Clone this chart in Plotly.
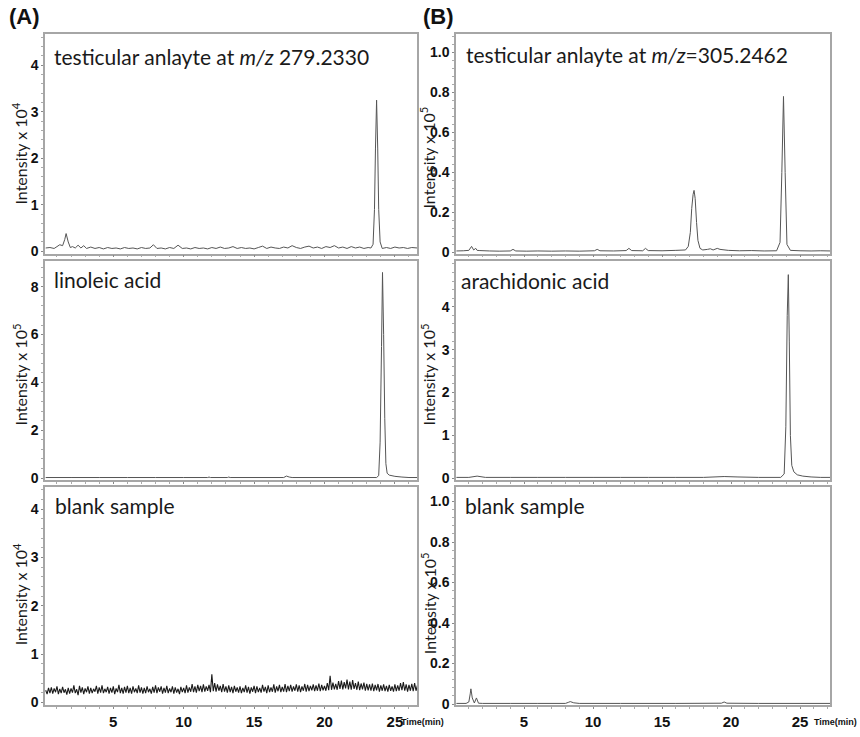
import plotly.graph_objects as go

# ---------------- data ----------------
# (A) top: testicular analyte m/z 279.2330, intensity x 1e4
a1_t = [0.2, 0.5, 0.8, 1.0, 1.2, 1.4, 1.55, 1.65, 1.8, 1.95, 2.1, 2.3, 2.5, 2.7, 2.9, 3.1, 3.4, 3.7,
        4.0, 4.3, 4.6, 4.9, 5.2, 5.5, 5.8, 6.1, 6.4, 6.7, 7.0, 7.3, 7.6, 7.85, 8.1, 8.4, 8.7, 9.0,
        9.3, 9.6, 9.9, 10.2, 10.5, 10.8, 11.1, 11.4, 11.7, 12.0, 12.3, 12.6, 12.9, 13.2, 13.5, 13.8,
        14.1, 14.4, 14.7, 15.0, 15.3, 15.6, 15.9, 16.2, 16.5, 16.8, 17.1, 17.4, 17.7, 18.0, 18.3,
        18.6, 18.9, 19.2, 19.5, 19.8, 20.1, 20.4, 20.7, 21.0, 21.3, 21.6, 21.9, 22.2, 22.5, 22.8,
        23.1, 23.3, 23.45, 23.55, 23.62, 23.7, 23.78, 23.85, 23.95, 24.1, 24.4, 24.7, 25.0, 25.3,
        25.6, 25.9, 26.2, 26.6]
a1_y = [0.07, 0.08, 0.06, 0.10, 0.14, 0.12, 0.25, 0.38, 0.20, 0.08, 0.10, 0.07, 0.13, 0.07, 0.12,
        0.06, 0.09, 0.06, 0.08, 0.05, 0.08, 0.06, 0.07, 0.05, 0.08, 0.06, 0.07, 0.05, 0.08, 0.06,
        0.07, 0.14, 0.06, 0.07, 0.05, 0.08, 0.06, 0.13, 0.06, 0.07, 0.05, 0.08, 0.06, 0.07, 0.05,
        0.08, 0.06, 0.09, 0.06, 0.07, 0.10, 0.06, 0.08, 0.06, 0.07, 0.05, 0.08, 0.11, 0.06, 0.09,
        0.07, 0.06, 0.09, 0.07, 0.12, 0.08, 0.06, 0.09, 0.11, 0.07, 0.09, 0.06, 0.10, 0.08, 0.12,
        0.07, 0.09, 0.06, 0.10, 0.07, 0.09, 0.06, 0.08, 0.07, 0.15, 0.90, 2.20, 3.25, 2.20, 0.90,
        0.20, 0.06, 0.08, 0.06, 0.09, 0.07, 0.08, 0.06, 0.08, 0.07]

# (A) middle: linoleic acid, intensity x 1e5
a2_t = [0.2, 2.0, 4.0, 6.0, 8.0, 10.0, 11.7, 11.8, 11.9, 13.1, 13.2, 13.3, 17.1, 17.3, 17.5, 17.7,
        23.7, 23.85, 23.95, 24.05, 24.12, 24.2, 24.28, 24.36, 24.45, 24.6, 25.0, 25.5, 26.0, 26.6]
a2_y = [0.02, 0.02, 0.02, 0.02, 0.02, 0.02, 0.02, 0.04, 0.02, 0.02, 0.04, 0.02, 0.02, 0.08, 0.04,
        0.02, 0.02, 0.10, 1.50, 5.50, 8.60, 6.00, 2.50, 0.60, 0.20, 0.12, 0.07, 0.04, 0.02, 0.02]

# (A) bottom: blank sample, intensity x 1e4 (one reading every 0.1 min)
a3_t = [0.2, 0.3, 0.4, 0.5, 0.6, 0.7, 0.8, 0.9, 1.0, 1.1,
        1.2, 1.3, 1.4, 1.5, 1.6, 1.7, 1.8, 1.9, 2.0, 2.1,
        2.2, 2.3, 2.4, 2.5, 2.6, 2.7, 2.8, 2.9, 3.0, 3.1,
        3.2, 3.3, 3.4, 3.5, 3.6, 3.7, 3.8, 3.9, 4.0, 4.1,
        4.2, 4.3, 4.4, 4.5, 4.6, 4.7, 4.8, 4.9, 5.0, 5.1,
        5.2, 5.3, 5.4, 5.5, 5.6, 5.7, 5.8, 5.9, 6.0, 6.1,
        6.2, 6.3, 6.4, 6.5, 6.6, 6.7, 6.8, 6.9, 7.0, 7.1,
        7.2, 7.3, 7.4, 7.5, 7.6, 7.7, 7.8, 7.9, 8.0, 8.1,
        8.2, 8.3, 8.4, 8.5, 8.6, 8.7, 8.8, 8.9, 9.0, 9.1,
        9.2, 9.3, 9.4, 9.5, 9.6, 9.7, 9.8, 9.9, 10.0, 10.1,
        10.2, 10.3, 10.4, 10.5, 10.6, 10.7, 10.8, 10.9, 11.0, 11.1,
        11.2, 11.3, 11.4, 11.5, 11.6, 11.7, 11.8, 11.9, 12.0, 12.1,
        12.2, 12.3, 12.4, 12.5, 12.6, 12.7, 12.8, 12.9, 13.0, 13.1,
        13.2, 13.3, 13.4, 13.5, 13.6, 13.7, 13.8, 13.9, 14.0, 14.1,
        14.2, 14.3, 14.4, 14.5, 14.6, 14.7, 14.8, 14.9, 15.0, 15.1,
        15.2, 15.3, 15.4, 15.5, 15.6, 15.7, 15.8, 15.9, 16.0, 16.1,
        16.2, 16.3, 16.4, 16.5, 16.6, 16.7, 16.8, 16.9, 17.0, 17.1,
        17.2, 17.3, 17.4, 17.5, 17.6, 17.7, 17.8, 17.9, 18.0, 18.1,
        18.2, 18.3, 18.4, 18.5, 18.6, 18.7, 18.8, 18.9, 19.0, 19.1,
        19.2, 19.3, 19.4, 19.5, 19.6, 19.7, 19.8, 19.9, 20.0, 20.1,
        20.2, 20.3, 20.4, 20.5, 20.6, 20.7, 20.8, 20.9, 21.0, 21.1,
        21.2, 21.3, 21.4, 21.5, 21.6, 21.7, 21.8, 21.9, 22.0, 22.1,
        22.2, 22.3, 22.4, 22.5, 22.6, 22.7, 22.8, 22.9, 23.0, 23.1,
        23.2, 23.3, 23.4, 23.5, 23.6, 23.7, 23.8, 23.9, 24.0, 24.1,
        24.2, 24.3, 24.4, 24.5, 24.6, 24.7, 24.8, 24.9, 25.0, 25.1,
        25.2, 25.3, 25.4, 25.5, 25.6, 25.7, 25.8, 25.9, 26.0, 26.1,
        26.2, 26.3, 26.4, 26.5, 26.6]
a3_y = [0.25, 0.17, 0.30, 0.19, 0.31, 0.18, 0.29, 0.21, 0.33, 0.17,
        0.28, 0.19, 0.32, 0.20, 0.27, 0.16, 0.30, 0.18, 0.29, 0.20,
        0.35, 0.19, 0.27, 0.15, 0.34, 0.20, 0.31, 0.17, 0.29, 0.21,
        0.33, 0.18, 0.30, 0.19, 0.28, 0.22, 0.34, 0.18, 0.31, 0.20,
        0.35, 0.19, 0.28, 0.21, 0.32, 0.18, 0.30, 0.20, 0.33, 0.17,
        0.29, 0.21, 0.36, 0.19, 0.30, 0.18, 0.32, 0.20, 0.34, 0.19,
        0.30, 0.18, 0.33, 0.21, 0.29, 0.19, 0.35, 0.20, 0.31, 0.18,
        0.30, 0.19, 0.33, 0.21, 0.28, 0.18, 0.32, 0.20, 0.35, 0.19,
        0.31, 0.22, 0.33, 0.18, 0.30, 0.20, 0.34, 0.19, 0.29, 0.21,
        0.33, 0.18, 0.31, 0.20, 0.28, 0.17, 0.32, 0.21, 0.30, 0.19,
        0.35, 0.20, 0.31, 0.22, 0.38, 0.21, 0.33, 0.20, 0.36, 0.23,
        0.34, 0.21, 0.37, 0.22, 0.33, 0.24, 0.36, 0.21, 0.58, 0.23,
        0.40, 0.22, 0.37, 0.24, 0.34, 0.21, 0.38, 0.22, 0.33, 0.20,
        0.35, 0.21, 0.32, 0.19, 0.34, 0.22, 0.31, 0.20, 0.33, 0.19,
        0.30, 0.21, 0.35, 0.20, 0.32, 0.18, 0.31, 0.22, 0.34, 0.19,
        0.33, 0.21, 0.30, 0.20, 0.36, 0.22, 0.32, 0.19, 0.35, 0.21,
        0.31, 0.22, 0.37, 0.20, 0.33, 0.23, 0.36, 0.21, 0.32, 0.22,
        0.38, 0.21, 0.34, 0.23, 0.36, 0.22, 0.33, 0.24, 0.37, 0.22,
        0.35, 0.21, 0.33, 0.24, 0.38, 0.22, 0.36, 0.23, 0.34, 0.25,
        0.37, 0.23, 0.35, 0.24, 0.39, 0.23, 0.36, 0.25, 0.34, 0.24,
        0.40, 0.25, 0.55, 0.26, 0.41, 0.27, 0.38, 0.26, 0.44, 0.28,
        0.45, 0.27, 0.42, 0.29, 0.47, 0.27, 0.43, 0.26, 0.46, 0.28,
        0.40, 0.26, 0.43, 0.25, 0.39, 0.27, 0.41, 0.24, 0.38, 0.25,
        0.37, 0.24, 0.39, 0.23, 0.36, 0.25, 0.38, 0.22, 0.35, 0.24,
        0.37, 0.23, 0.34, 0.22, 0.36, 0.24, 0.33, 0.22, 0.37, 0.23,
        0.35, 0.24, 0.40, 0.25, 0.42, 0.24, 0.37, 0.22, 0.36, 0.24,
        0.38, 0.23, 0.40, 0.24, 0.35]

# (B) top: testicular analyte m/z 305.2462, intensity x 1e5
b1_t = [0.1, 0.6, 1.0, 1.2, 1.35, 1.5, 1.6, 1.8, 2.5, 3.2, 4.0, 4.2, 4.4, 5.2, 6.0, 7.0, 8.0, 9.0,
        10.1, 10.3, 10.5, 11.5, 12.4, 12.6, 12.8, 13.6, 13.8, 14.0, 15.0, 16.0, 16.7, 16.9, 17.05,
        17.15, 17.25, 17.32, 17.4, 17.5, 17.6, 17.75, 17.95, 18.3, 18.5, 18.7, 19.0, 19.2, 19.8,
        20.6, 21.5, 22.4, 23.3, 23.55, 23.68, 23.8, 23.92, 24.05, 24.3, 25.0, 25.8, 26.5, 27.2]
b1_y = [0.007, 0.008, 0.010, 0.030, 0.012, 0.020, 0.010, 0.009, 0.007, 0.006, 0.007, 0.015, 0.007,
        0.006, 0.007, 0.006, 0.007, 0.006, 0.008, 0.015, 0.008, 0.007, 0.009, 0.020, 0.009, 0.008,
        0.020, 0.009, 0.008, 0.010, 0.012, 0.030, 0.100, 0.220, 0.290, 0.310, 0.270, 0.150, 0.060,
        0.020, 0.012, 0.015, 0.018, 0.012, 0.020, 0.015, 0.010, 0.008, 0.009, 0.007, 0.008, 0.050,
        0.400, 0.780, 0.400, 0.040, 0.010, 0.008, 0.007, 0.008, 0.007]

# (B) middle: arachidonic acid, intensity x 1e5
b2_t = [0.1, 1.0, 1.6, 2.2, 4.0, 6.0, 8.0, 10.0, 12.0, 14.0, 16.0, 18.0, 19.5, 20.5, 22.0, 23.6,
        23.85, 23.97, 24.07, 24.15, 24.22, 24.3, 24.4, 24.55, 24.8, 25.2, 25.8, 26.5, 27.2]
b2_y = [0.02, 0.02, 0.05, 0.02, 0.02, 0.02, 0.02, 0.02, 0.02, 0.02, 0.02, 0.02, 0.04, 0.03, 0.02,
        0.02, 0.10, 1.20, 3.80, 4.75, 3.20, 1.00, 0.30, 0.15, 0.08, 0.05, 0.03, 0.02, 0.02]

# (B) bottom: blank sample, intensity x 1e5
b3_t = [0.1, 0.8, 1.0, 1.1, 1.15, 1.25, 1.4, 1.55, 1.7, 2.0, 4.0, 6.0, 8.0, 8.2, 8.35, 8.6, 9.0,
        12.0, 16.0, 19.3, 19.5, 19.7, 22.0, 25.0, 27.2]
b3_y = [0.003, 0.003, 0.010, 0.050, 0.075, 0.030, 0.005, 0.030, 0.004, 0.003, 0.003, 0.003, 0.003,
        0.008, 0.012, 0.006, 0.003, 0.003, 0.003, 0.004, 0.010, 0.004, 0.003, 0.003, 0.003]

# tick labels
a1_ticks = [0, 1, 2, 3, 4]
a2_ticks = [0, 2, 4, 6, 8]
a3_ticks = [0, 1, 2, 3, 4]
b1_ticks = [0, 0.2, 0.4, 0.6, 0.8, 1.0]
b1_ticktext = ["0", "0.2", "0.4", "0.6", "0.8", "1.0"]
b2_ticks = [0, 1, 2, 3, 4]
b3_ticks = [0, 0.2, 0.4, 0.6, 0.8, 1.0]
x_ticks = [5, 10, 15, 20, 25]

labels = ["testicular anlayte at <i>m/z</i> 279.2330", "linoleic acid", "blank sample",
          "testicular anlayte at <i>m/z</i>=305.2462", "arachidonic acid", "blank sample"]
ytitles = ["Intensity x 10<sup>4</sup>", "Intensity x 10<sup>5</sup>", "Intensity x 10<sup>4</sup>",
           "Intensity x 10<sup>5</sup>", "Intensity x 10<sup>5</sup>", "Intensity x 10<sup>5</sup>"]

# ---------------- layout geometry ----------------
W, H = 860, 737
FONT = "Lato"
BFONT = "Liberation Sans"
xdom_A = [45 / W, 417 / W]
xdom_B = [456 / W, 830 / W]
ydoms = [[1 - 256 / H, 1 - 34 / H], [1 - 485 / H, 1 - 263 / H], [1 - 712 / H, 1 - 492 / H]]
xrange_A = [0.15, 26.57]
xrange_B = [0.07, 27.17]
yranges = [[-0.05, 4.68], [-0.1, 9.1], [-0.06, 4.45],
           [-0.006, 1.094], [-0.05, 5.08], [-0.006, 1.07]]
ytickvals = [a1_ticks, a2_ticks, a3_ticks, b1_ticks, b2_ticks, b3_ticks]
yticktext = [[str(v) for v in a1_ticks], [str(v) for v in a2_ticks], [str(v) for v in a3_ticks],
             b1_ticktext, [str(v) for v in b2_ticks], b1_ticktext]
yminor = [0.2, 0.4, 0.2, 0.04, 0.2, 0.04]

series = [(a1_t, a1_y), (a2_t, a2_y), (a3_t, a3_y), (b1_t, b1_y), (b2_t, b2_y), (b3_t, b3_y)]
line_colors = ["#555555", "#555555", "#1a1a1a", "#555555", "#555555", "#555555"]
line_widths = [1, 1, 1.1, 1, 1, 1]

fig = go.Figure()
frame = "#a6a6a6"
for i, (t, y) in enumerate(series):
    n = i + 1
    xa = "x" if n == 1 else f"x{n}"
    ya = "y" if n == 1 else f"y{n}"
    fig.add_trace(go.Scatter(x=t, y=y, mode="lines", xaxis=xa, yaxis=ya,
                             line=dict(color=line_colors[i], width=line_widths[i], simplify=False),
                             showlegend=False, hoverinfo="skip"))
    col = 0 if i < 3 else 1
    row = i % 3
    xkey = "xaxis" if n == 1 else f"xaxis{n}"
    ykey = "yaxis" if n == 1 else f"yaxis{n}"
    fig.layout[xkey] = dict(
        domain=xdom_A if col == 0 else xdom_B,
        range=xrange_A if col == 0 else xrange_B,
        anchor=ya, showgrid=False, zeroline=False,
        showline=True, mirror=True, linecolor=frame, linewidth=1.5,
        tickvals=x_ticks, ticks="outside", ticklen=2, tickcolor="#888888",
        showticklabels=(row == 2),
        tickfont=dict(family=BFONT, size=15, color="#111111", weight="bold"),
        minor=dict(dtick=1, ticks="outside", ticklen=2, tickcolor="#aaaaaa"),
    )
    fig.layout[ykey] = dict(
        domain=ydoms[row], range=yranges[i], anchor=xa,
        showgrid=False, zeroline=False,
        showline=True, mirror=True, linecolor=frame, linewidth=1.5,
        tickvals=ytickvals[i], ticktext=yticktext[i],
        ticks="outside", ticklen=2, tickcolor="#888888",
        tickfont=dict(family=BFONT, size=14, color="#111111", weight="bold"),
        minor=dict(dtick=yminor[i], ticks="outside", ticklen=2, tickcolor="#aaaaaa"),
    )

# in-panel labels
label_pos = [(52, 57), (52, 282), (53, 510), (464, 55), (459, 283), (463, 510)]
for txt, (px, py) in zip(labels, label_pos):
    fig.add_annotation(text=txt, x=px / W, y=1 - py / H, xref="paper", yref="paper",
                       xanchor="left", yanchor="middle", showarrow=False,
                       font=dict(family=FONT, size=21, color="#1a1a1a"))

# y titles
ytitle_pos = [(20, 155), (20, 378), (20, 600), (428, 159), (428, 378), (428, 609)]
for txt, (px, py) in zip(ytitles, ytitle_pos):
    fig.add_annotation(text=txt, x=px / W, y=1 - py / H, xref="paper", yref="paper",
                       xanchor="center", yanchor="middle", showarrow=False, textangle=-90,
                       font=dict(family=FONT, size=16, color="#1a1a1a"))

# panel letters
for txt, (px, py) in zip(["(A)", "(B)"], [(24, 17), (438, 17)]):
    fig.add_annotation(text=txt, x=px / W, y=1 - py / H, xref="paper", yref="paper",
                       xanchor="center", yanchor="middle", showarrow=False,
                       font=dict(family=BFONT, size=22, color="#111111", weight="bold"))

# x units
for px in (399, 812):
    fig.add_annotation(text="Time(min)", x=px / W, y=1 - 729 / H, xref="paper", yref="paper",
                       xanchor="left", yanchor="middle", showarrow=False,
                       font=dict(family=BFONT, size=9, color="#111111", weight="bold"))

fig.update_layout(width=W, height=H, margin=dict(l=0, r=0, t=0, b=0),
                  paper_bgcolor="white", plot_bgcolor="white")

# remove the default page margin so the figure sits at the window's top-left corner
fig.write_html("out.html", config={"displayModeBar": False},
               post_script="document.body.style.margin='0';document.body.style.overflow='hidden';")
